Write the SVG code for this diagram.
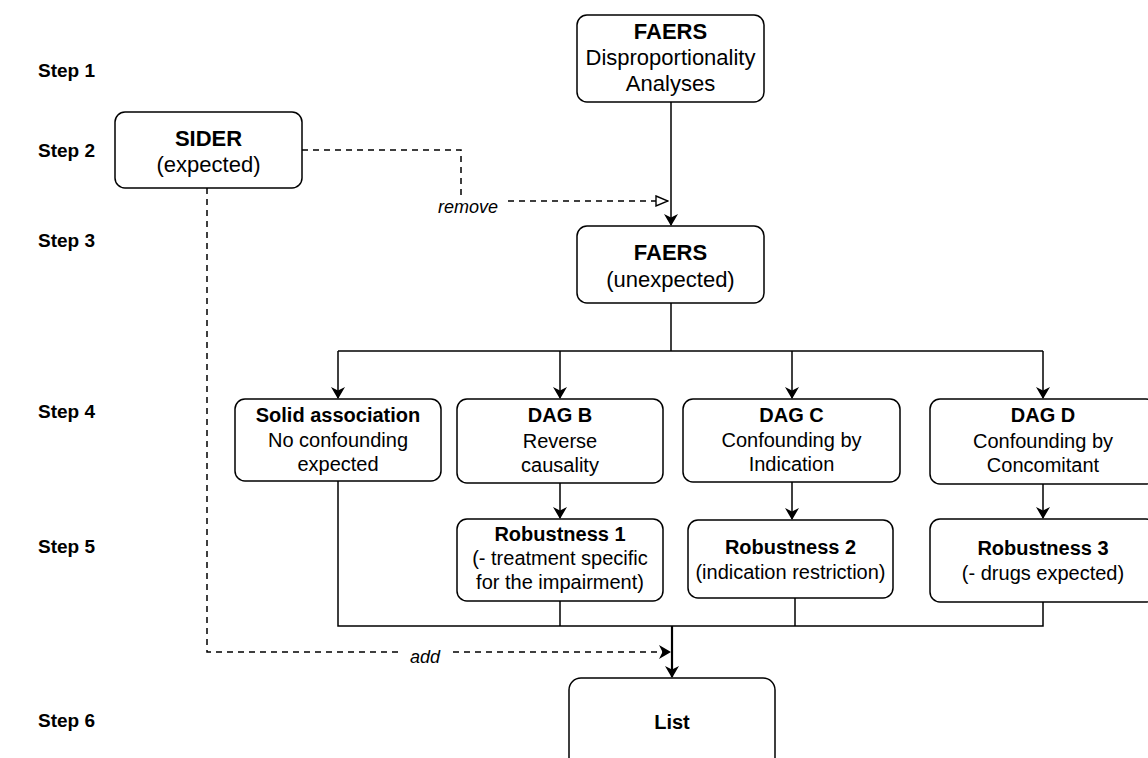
<svg xmlns="http://www.w3.org/2000/svg" width="1148" height="758" viewBox="0 0 1148 758">
<defs>
<style>
.box{fill:#fff;stroke:#000;stroke-width:1.5}
.t{font-family:"Liberation Sans",Arial,sans-serif;font-size:20px;fill:#000;text-anchor:middle}
.big{font-size:22px}
.b{font-weight:bold}
.step{font-family:"Liberation Sans",Arial,sans-serif;font-size:19px;font-weight:bold;fill:#000}
.lbl{font-family:"Liberation Sans",Arial,sans-serif;font-size:18px;font-style:italic;fill:#000;text-anchor:middle}
.c{fill:none;stroke:#000;stroke-width:1.5}
.d{fill:none;stroke:#000;stroke-width:1.5;stroke-dasharray:6 5}
</style>
<marker id="arr" viewBox="0 0 12 14" refX="11" refY="7" markerWidth="12" markerHeight="14" markerUnits="userSpaceOnUse" orient="auto">
<path d="M0,0 L12,7 L0,14 L3.5,7 Z" fill="#000"/>
</marker>
<marker id="open" viewBox="0 0 14 12" refX="13" refY="6" markerWidth="14" markerHeight="12" markerUnits="userSpaceOnUse" orient="auto">
<path d="M1,1 L13,6 L1,11 Z" fill="#fff" stroke="#000" stroke-width="1.4"/>
</marker>
</defs>
<rect width="1148" height="758" fill="#fff"/>

<g id="steps">
<text class="step" x="38" y="77">Step 1</text>
<text class="step" x="38" y="157">Step 2</text>
<text class="step" x="38" y="247">Step 3</text>
<text class="step" x="38" y="418">Step 4</text>
<text class="step" x="38" y="553">Step 5</text>
<text class="step" x="38" y="727">Step 6</text>
</g>

<g id="connectors">
<line class="c" x1="671" y1="102" x2="671" y2="225" marker-end="url(#arr)"/>
<path class="d" d="M302,150 H461 V197"/>
<path class="d" d="M508,201 H668" marker-end="url(#open)"/>
<text class="lbl" x="468" y="213">remove</text>
<path class="c" d="M671,303 V351"/>
<path class="c" d="M338,351 H1043"/>
<line class="c" x1="338" y1="351" x2="338" y2="398" marker-end="url(#arr)"/>
<line class="c" x1="560" y1="351" x2="560" y2="398" marker-end="url(#arr)"/>
<line class="c" x1="792" y1="351" x2="792" y2="398" marker-end="url(#arr)"/>
<line class="c" x1="1043" y1="351" x2="1043" y2="398" marker-end="url(#arr)"/>
<line class="c" x1="560" y1="483" x2="560" y2="518" marker-end="url(#arr)"/>
<line class="c" x1="792" y1="482" x2="792" y2="519" marker-end="url(#arr)"/>
<line class="c" x1="1043" y1="484" x2="1043" y2="518" marker-end="url(#arr)"/>
<path class="c" d="M338,481 V626 H1043 V602"/>
<path class="c" d="M560,601 V626"/>
<path class="c" d="M795,598 V626"/>
<line x1="672" y1="626" x2="672" y2="677" stroke="#000" stroke-width="2.2" marker-end="url(#arr)"/>
<path class="d" d="M207,188 V652 H398"/>
<path class="d" d="M453,652 H670" marker-end="url(#arr)"/>
<text class="lbl" x="425" y="663">add</text>
</g>

<g id="faers-top">
<rect class="box" x="577" y="15" width="187" height="87" rx="10"/>
<text class="t big b" x="670.5" y="39">FAERS</text>
<text class="t big" x="670.5" y="65">Disproportionality</text>
<text class="t big" x="670.5" y="91">Analyses</text>
</g>

<g id="sider">
<rect class="box" x="115" y="112" width="187" height="76" rx="10"/>
<text class="t big b" x="208.5" y="146">SIDER</text>
<text class="t big" x="208.5" y="172">(expected)</text>
</g>

<g id="faers-unexpected">
<rect class="box" x="577" y="226" width="187" height="77" rx="10"/>
<text class="t big b" x="670.5" y="260">FAERS</text>
<text class="t big" x="670.5" y="287">(unexpected)</text>
</g>

<g id="solid">
<rect class="box" x="235" y="399" width="206" height="82" rx="10"/>
<text class="t b" x="338" y="422">Solid association</text>
<text class="t" x="338" y="447">No confounding</text>
<text class="t" x="338" y="471">expected</text>
</g>

<g id="dag-b">
<rect class="box" x="457" y="399" width="206" height="84" rx="10"/>
<text class="t b" x="560" y="422">DAG B</text>
<text class="t" x="560" y="448">Reverse</text>
<text class="t" x="560" y="472">causality</text>
</g>

<g id="dag-c">
<rect class="box" x="683" y="399" width="217" height="83" rx="10"/>
<text class="t b" x="791.5" y="422">DAG C</text>
<text class="t" x="791.5" y="447">Confounding by</text>
<text class="t" x="791.5" y="471">Indication</text>
</g>

<g id="dag-d">
<rect class="box" x="930" y="399" width="226" height="85" rx="10"/>
<text class="t b" x="1043" y="422">DAG D</text>
<text class="t" x="1043" y="448">Confounding by</text>
<text class="t" x="1043" y="472">Concomitant</text>
</g>

<g id="robustness-1">
<rect class="box" x="457" y="519" width="206" height="82" rx="10"/>
<text class="t b" x="560" y="541">Robustness 1</text>
<text class="t" x="560" y="565">(- treatment specific</text>
<text class="t" x="560" y="589">for the impairment)</text>
</g>

<g id="robustness-2">
<rect class="box" x="688" y="520" width="205" height="78" rx="10"/>
<text class="t b" x="790.5" y="554">Robustness 2</text>
<text class="t" x="790.5" y="579">(indication restriction)</text>
</g>

<g id="robustness-3">
<rect class="box" x="930" y="519" width="226" height="83" rx="10"/>
<text class="t b" x="1043" y="555">Robustness 3</text>
<text class="t" x="1043" y="580">(- drugs expected)</text>
</g>

<g id="list">
<rect class="box" x="569" y="678" width="206" height="95" rx="12"/>
<text class="t b" x="672" y="729">List</text>
</g>
</svg>
